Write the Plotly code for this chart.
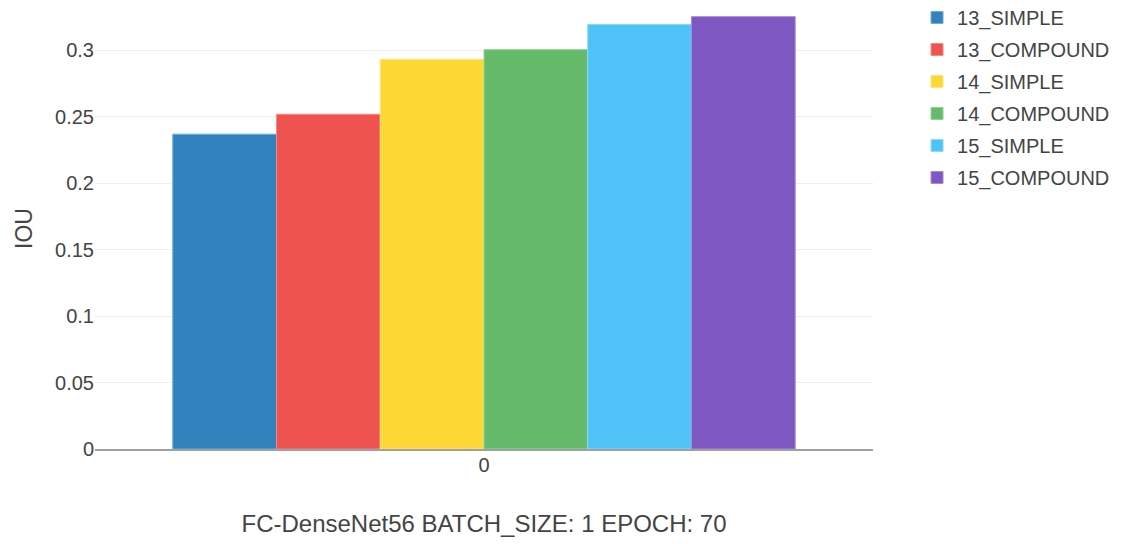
import plotly.graph_objects as go

categories = ["0"]
series_names = ["13_SIMPLE", "13_COMPOUND", "14_SIMPLE", "14_COMPOUND", "15_SIMPLE", "15_COMPOUND"]
series_values = [0.2367, 0.2517, 0.2930, 0.3003, 0.3193, 0.3251]
colors = ["#3182bd", "#ef5350", "#fdd835", "#66bb6a", "#4fc3f7", "#7e57c2"]
edge_colors = ["#6baed6", "#f48a88", "#fee77a", "#94d197", "#8fd9fa", "#a98ad6"]

FONT = "Liberation Sans, Arial, sans-serif"

fig = go.Figure()
for name, val, c, ec in zip(series_names, series_values, colors, edge_colors):
    fig.add_trace(go.Bar(
        x=categories, y=[val], name=name,
        marker=dict(color=c, line=dict(color=ec, width=1)),
        legendgroup=name,
    ))

fig.update_layout(
    width=1118, height=536,
    paper_bgcolor="white", plot_bgcolor="white",
    margin=dict(l=87, r=253, t=0, b=95, autoexpand=False),
    font=dict(family=FONT, color="#444", size=20),
    bargap=0.2, bargroupgap=0,
    showlegend=True,
    legend=dict(x=1.0566, xanchor="left", y=1.0227, yanchor="top",
                font=dict(size=20, color="#444"), tracegroupgap=3),
    xaxis=dict(
        type="category",
        title=dict(text="FC-DenseNet56 BATCH_SIZE: 1 EPOCH: 70", font=dict(size=24, color="#444"), standoff=40),
        showline=True, linecolor="#a0a0a0", linewidth=2,
        showgrid=False, ticks="", tickfont=dict(size=20, color="#444"),
        ticklabelstandoff=-3, automargin=False,
    ),
    yaxis=dict(
        title=dict(text="IOU", font=dict(size=23, color="#444"), standoff=16),
        range=[0, 0.3316], dtick=0.05,
        showgrid=True, gridcolor="#eeeeee", gridwidth=1,
        zeroline=False, showline=False, ticks="",
        tickfont=dict(size=20, color="#444"), automargin=False,
    ),
)

fig.write_html("out.html")
